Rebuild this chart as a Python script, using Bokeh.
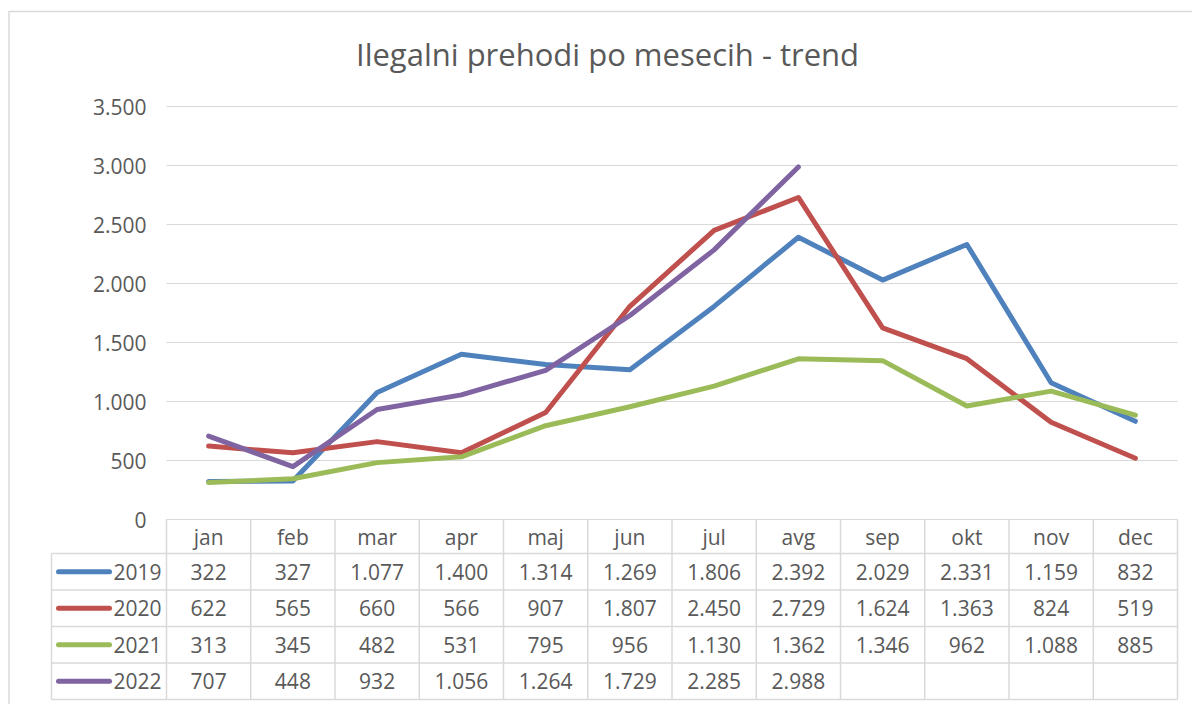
from bokeh.plotting import figure
from bokeh.models import Range1d, LinearAxis, FixedTicker, Label
from bokeh.core.properties import value
from bokeh.embed import file_html
from bokeh.resources import INLINE

# ---------------- data ----------------
months = ["jan", "feb", "mar", "apr", "maj", "jun", "jul", "avg", "sep", "okt", "nov", "dec"]
years = ["2019", "2020", "2021", "2022"]
v2019 = [322, 327, 1077, 1400, 1314, 1269, 1806, 2392, 2029, 2331, 1159, 832]
v2020 = [622, 565, 660, 566, 907, 1807, 2450, 2729, 1624, 1363, 824, 519]
v2021 = [313, 345, 482, 531, 795, 956, 1130, 1362, 1346, 962, 1088, 885]
v2022 = [707, 448, 932, 1056, 1264, 1729, 2285, 2988]
series = [v2019, v2020, v2021, v2022]
colors = ["#4F81BD", "#C0504D", "#9BBB59", "#8064A2"]
y_ticks = [0, 500, 1000, 1500, 2000, 2500, 3000, 3500]
title_text = "Ilegalni prehodi po mesecih - trend"


def fmt(v):
    return f"{v:,}".replace(",", ".")


# ---------------- geometry (pixels inside the figure) ----------------
W, H = 1192, 704
PL, PR = 166, 1177          # plot area left / right
Y0, YTOP = 519, 106         # pixel rows of 0 and top tick
n = len(months)
ppx = (PR - PL) / n
ppy = (Y0 - YTOP) / y_ticks[-1]


def fx(px):
    return -0.5 + (px - PL) / ppx


def fy(py):
    return (Y0 - py) / ppy


TEXT = "#595959"
GRID = "#d9d9d9"
FONT = "Open Sans"
FS = "21px"

p = figure(width=W, height=H, output_backend="svg", toolbar_location=None,
           x_range=Range1d(fx(0), fx(W)), y_range=Range1d(fy(H), fy(0)),
           x_axis_location=None, y_axis_location=None,
           min_border=0, min_border_left=0, min_border_right=0,
           min_border_top=0, min_border_bottom=0)
p.outline_line_color = None
p.grid.visible = False
p.background_fill_color = "white"
p.border_fill_color = "white"

# chart border (top and left)
p.segment(x0=[fx(8), fx(8.5)], y0=[fy(11), fy(11)], x1=[fx(W), fx(8.5)], y1=[fy(11), fy(H)],
          line_color=GRID, line_width=1.5)

# y axis inside the frame
yax = LinearAxis(fixed_location=-0.5, ticker=FixedTicker(ticks=y_ticks))
yax.major_label_overrides = {t: fmt(t) for t in y_ticks}
yax.axis_line_color = None
yax.major_tick_line_color = None
yax.minor_tick_line_color = None
yax.major_tick_out = 0
yax.major_tick_in = 0
yax.major_label_standoff = 20
yax.major_label_text_font = FONT
yax.major_label_text_font_size = FS
yax.major_label_text_color = TEXT
p.add_layout(yax, "left")

# horizontal gridlines
p.segment(x0=[-0.5] * len(y_ticks), x1=[n - 0.5] * len(y_ticks), y0=y_ticks, y1=y_ticks,
          line_color=GRID, line_width=1.2)

# ---------------- data table geometry ----------------
LEG_L = 51
HEAD_B = 553
ROW_H = 36.5
row_bottoms = [HEAD_B + ROW_H * (k + 1) for k in range(len(years))]
row_centers = [HEAD_B + ROW_H * (k + 0.5) for k in range(len(years))]
bottom = row_bottoms[-1]

hy = [fy(HEAD_B)] + [fy(b) for b in row_bottoms]
p.segment(x0=[fx(LEG_L)] * len(hy), x1=[n - 0.5] * len(hy), y0=hy, y1=hy,
          line_color=GRID, line_width=1.5)
vx = [i - 0.5 for i in range(n + 1)]
p.segment(x0=vx, x1=vx, y0=[0] * len(vx), y1=[fy(bottom)] * len(vx),
          line_color=GRID, line_width=1.5)
p.segment(x0=[fx(LEG_L)], x1=[fx(LEG_L)], y0=[fy(HEAD_B)], y1=[fy(bottom)],
          line_color=GRID, line_width=1.5)

# month header
p.text(x=list(range(n)), y=[fy((Y0 + HEAD_B) / 2)] * n, text=months,
       text_font=value(FONT), text_font_size=value(FS), text_color=TEXT,
       text_align="center", text_baseline="middle")

for k, (yr, vals, col) in enumerate(zip(years, series, colors)):
    xs = list(range(len(vals)))
    p.line(xs, vals, line_color=col, line_width=5, line_cap="round", line_join="round")
    cy = fy(row_centers[k])
    p.text(x=xs, y=[cy] * len(vals), text=[fmt(v) for v in vals],
           text_font=value(FONT), text_font_size=value(FS), text_color=TEXT,
           text_align="center", text_baseline="middle")
    # legend key
    p.segment(x0=[fx(LEG_L + 7)], x1=[fx(LEG_L + 58)], y0=[cy], y1=[cy],
              line_color=col, line_width=5, line_cap="round")
    p.text(x=[fx(LEG_L + 62)], y=[cy], text=[yr],
           text_font=value(FONT), text_font_size=value(FS), text_color=TEXT,
           text_align="left", text_baseline="middle")

p.add_layout(Label(x=fx(607), y=fy(53), text=title_text, text_font=FONT,
                   text_font_size="31px", text_color=TEXT,
                   text_align="center", text_baseline="middle"))

open("out.html", "w").write(file_html(p, INLINE))
